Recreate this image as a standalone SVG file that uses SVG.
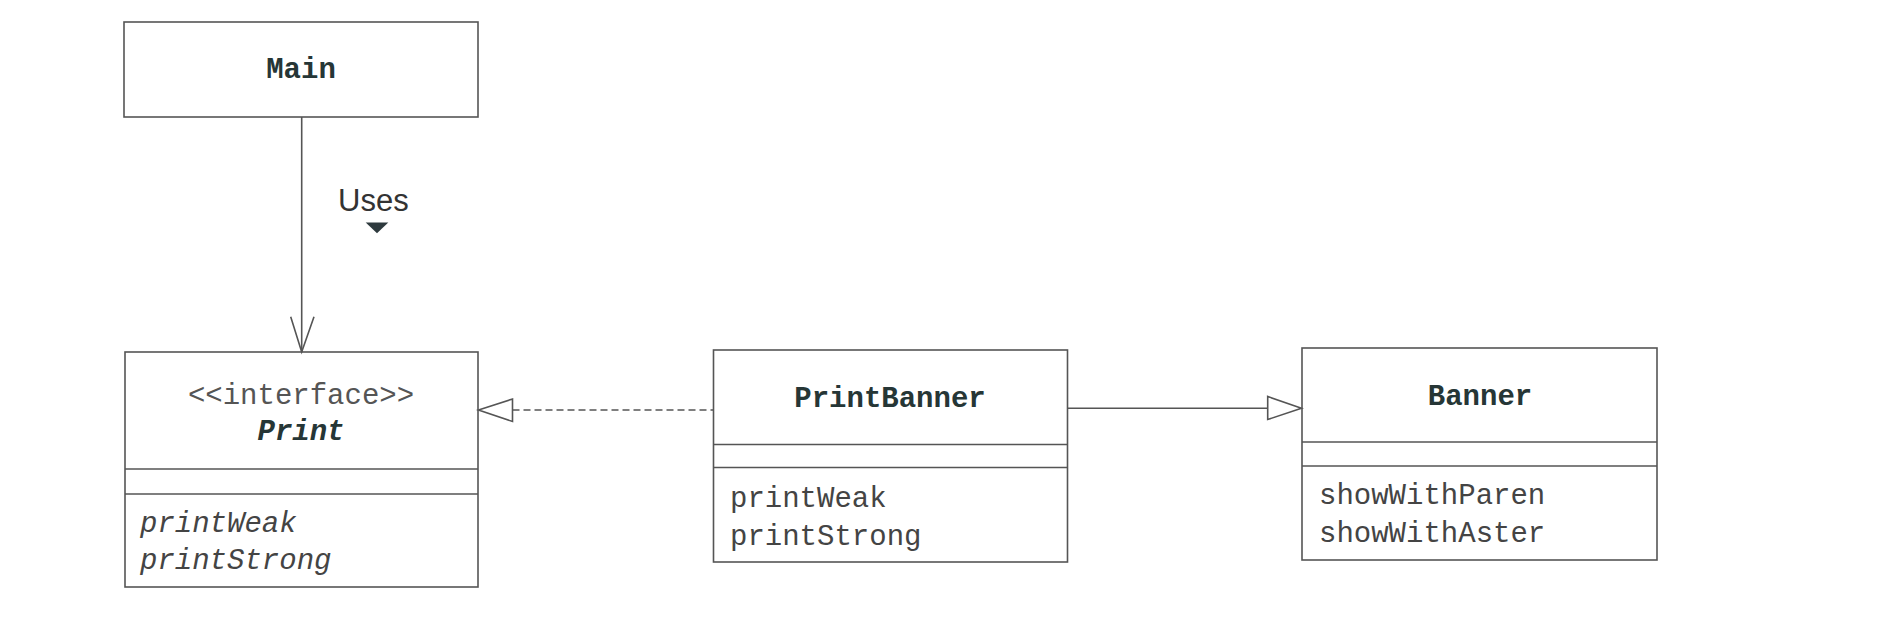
<svg xmlns="http://www.w3.org/2000/svg" width="1884" height="630" viewBox="0 0 1884 630">
<style>
.box{fill:#fff;stroke:#555;stroke-width:1.6}
.div{stroke:#555;stroke-width:1.6}
.title{font-family:"Liberation Mono",monospace;font-size:29px;font-weight:bold;fill:#263636;text-anchor:middle}
.stereo{font-family:"Liberation Mono",monospace;font-size:29px;fill:#555;text-anchor:middle}
.op{font-family:"Liberation Mono",monospace;font-size:29px;fill:#444}
.ital{font-style:italic}
.lbl{font-family:"Liberation Sans",Arial,sans-serif;font-size:31px;fill:#333}
.conn{stroke:#555;stroke-width:1.6;fill:none}
.head{fill:#fff;stroke:#555;stroke-width:1.6}
</style>
<rect width="1884" height="630" fill="#fff"/>
<g id="Main">
<rect class="box" x="124" y="22" width="354" height="95"/>
<text class="title" x="301" y="78">Main</text>
</g>
<g id="Print">
<rect class="box" x="125" y="352" width="353" height="235"/>
<line class="div" x1="125" y1="469" x2="478" y2="469"/>
<line class="div" x1="125" y1="494" x2="478" y2="494"/>
<text class="stereo" x="301" y="404">&lt;&lt;interface&gt;&gt;</text>
<text class="title ital" x="301" y="440">Print</text>
<text class="op ital" x="140" y="532">printWeak</text>
<text class="op ital" x="140" y="569">printStrong</text>
</g>
<g id="PrintBanner">
<rect class="box" x="713.5" y="350" width="354" height="212"/>
<line class="div" x1="713.5" y1="444.5" x2="1067.5" y2="444.5"/>
<line class="div" x1="713.5" y1="467.5" x2="1067.5" y2="467.5"/>
<text class="title" x="890" y="407">PrintBanner</text>
<text class="op" x="730" y="507">printWeak</text>
<text class="op" x="730" y="545">printStrong</text>
</g>
<g id="Banner">
<rect class="box" x="1302" y="348" width="355" height="212"/>
<line class="div" x1="1302" y1="442" x2="1657" y2="442"/>
<line class="div" x1="1302" y1="466" x2="1657" y2="466"/>
<text class="title" x="1480" y="405">Banner</text>
<text class="op" x="1319" y="504">showWithParen</text>
<text class="op" x="1319" y="542">showWithAster</text>
</g>
<g id="connectors">
<line class="conn" x1="301.7" y1="117" x2="301.7" y2="352"/>
<polyline class="conn" points="290.7,316.7 301.7,352 314,316.7"/>
<text class="lbl" x="338" y="211">Uses</text>
<polygon points="365.7,222.5 388.3,222.5 377,233.3" fill="#2e3a3e"/>
<line class="conn" x1="512.5" y1="410" x2="713.5" y2="410" stroke-dasharray="7,4"/>
<polygon class="head" points="478.5,410 512.5,399 512.5,421.5"/>
<line class="conn" x1="1067.5" y1="408.3" x2="1267.7" y2="408.3"/>
<polygon class="head" points="1301.5,408.3 1267.7,396.5 1267.7,419.5"/>
</g>
</svg>
